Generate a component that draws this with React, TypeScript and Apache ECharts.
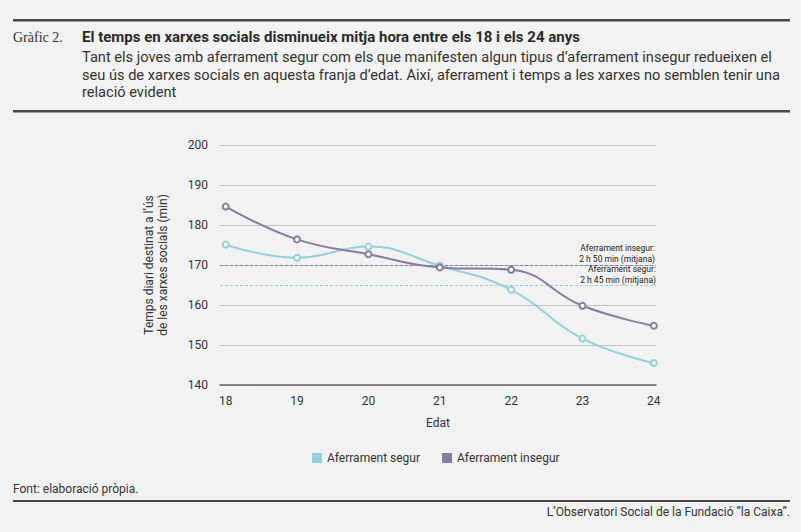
import React, { useEffect, useRef } from "react";
import * as echarts from "echarts";

const ages = [18, 19, 20, 21, 22, 23, 24];
const segur = [175.1, 171.8, 174.6, 169.8, 163.8, 151.6, 145.5];
const insegur = [184.6, 176.4, 172.7, 169.4, 168.8, 159.8, 154.8];
const meanInsegur = 170;
const meanSegur = 165;
const yTicks = [140, 150, 160, 170, 180, 190, 200];

const CYAN = "#93d2dd";
const PURPLE = "#8a7c9e";
const FONT = "Roboto, 'Liberation Sans', sans-serif";

export default function App() {
  const ref = useRef<HTMLDivElement>(null);
  useEffect(() => {
    document.body.style.margin = "0";
    const chart = echarts.init(ref.current!, null, { renderer: "svg" });
    chart.setOption({
      animation: false,
      backgroundColor: "#f2f2f2",
      textStyle: { fontFamily: FONT },
      grid: { left: 220, right: 145, top: 145, bottom: 147 },
      legend: {
        top: 447,
        left: 307,
        itemWidth: 10,
        itemHeight: 10,
        itemGap: 22,
        icon: "rect",
        textStyle: { fontSize: 12, color: "#333", fontFamily: FONT },
        data: [
          { name: "Aferrament segur", itemStyle: { color: CYAN } },
          { name: "Aferrament insegur", itemStyle: { color: PURPLE } },
        ],
      },
      xAxis: {
        type: "value",
        min: 17.92,
        max: 24.03,
        name: "Edat",
        nameLocation: "middle",
        nameGap: 32,
        nameTextStyle: { fontSize: 12, color: "#333" },
        axisLine: { show: true, lineStyle: { color: "#666", width: 1.5 } },
        axisTick: { show: false },
        splitLine: { show: false },
        axisLabel: {
          customValues: ages,
          color: "#333",
          fontSize: 12,
          margin: 10,
          formatter: (v: number) => String(Math.round(v)),
        },
      },
      yAxis: {
        type: "value",
        min: yTicks[0],
        max: yTicks[yTicks.length - 1],
        interval: 10,
        name: "Temps diari destinat a l’ús\nde les xarxes socials (min)",
        nameLocation: "middle",
        nameRotate: 90,
        nameGap: 50,
        nameTextStyle: { fontSize: 12, color: "#333", lineHeight: 14 },
        axisLine: { show: false },
        axisTick: { show: false },
        axisLabel: { color: "#333", fontSize: 12, margin: 12 },
        splitLine: { lineStyle: { color: "#c4c4c4", width: 1 } },
      },
      series: [
        {
          name: "Aferrament segur",
          type: "line",
          data: ages.map((a, i) => [a, segur[i]]),
          smooth: 0.45,
          symbol: "emptyCircle",
          symbolSize: 6,
          lineStyle: { color: CYAN, width: 2 },
          itemStyle: { color: CYAN, borderWidth: 2 },
          z: 3,
          markLine: {
            silent: true,
            symbol: "none",
            lineStyle: { color: CYAN, type: [3, 2], width: 1 },
            label: {
              position: "insideEndTop",
              formatter: "Aferrament segur:\n2 h 45 min (mitjana)",
              fontSize: 8.5,
              lineHeight: 11,
              color: "#222",
              align: "right",
              distance: 0,
            },
            data: [{ yAxis: meanSegur }],
          },
        },
        {
          name: "Aferrament insegur",
          type: "line",
          data: ages.map((a, i) => [a, insegur[i]]),
          smooth: 0.45,
          symbol: "emptyCircle",
          symbolSize: 6,
          lineStyle: { color: PURPLE, width: 2 },
          itemStyle: { color: PURPLE, borderWidth: 2 },
          z: 4,
          markLine: {
            silent: true,
            symbol: "none",
            lineStyle: { color: PURPLE, type: [3, 2], width: 1 },
            label: {
              position: "insideEndTop",
              formatter: "Aferrament insegur:\n2 h 50 min (mitjana)",
              fontSize: 8.5,
              lineHeight: 11,
              color: "#222",
              align: "right",
              distance: 1,
            },
            data: [{ yAxis: meanInsegur }],
          },
        },
      ],
      graphic: [
        { type: "rect", shape: { x: 13, y: 19, width: 777, height: 2.5 }, style: { fill: "#4a4746" } },
        { type: "rect", shape: { x: 13, y: 110, width: 777, height: 2.5 }, style: { fill: "#4a4746" } },
        { type: "rect", shape: { x: 13, y: 500, width: 777, height: 2 }, style: { fill: "#4a4746" } },
        {
          type: "text", x: 13, y: 37,
          style: { text: "Gràfic 2.", font: "14px 'Liberation Serif', 'DejaVu Serif', serif", fill: "#333", verticalAlign: "middle" },
        },
        {
          type: "text", x: 82, y: 37,
          style: { text: "El temps en xarxes socials disminueix mitja hora entre els 18 i els 24 anys", font: `bold 15px ${FONT}`, fill: "#2a2a2a", verticalAlign: "middle" },
        },
        {
          type: "text", x: 82, y: 57,
          style: { text: "Tant els joves amb aferrament segur com els que manifesten algun tipus d’aferrament insegur redueixen el", font: `14.6px ${FONT}`, fill: "#333", verticalAlign: "middle" },
        },
        {
          type: "text", x: 82, y: 75,
          style: { text: "seu ús de xarxes socials en aquesta franja d’edat. Així, aferrament i temps a les xarxes no semblen tenir una", font: `14.6px ${FONT}`, fill: "#333", verticalAlign: "middle" },
        },
        {
          type: "text", x: 82, y: 92,
          style: { text: "relació evident", font: `14.6px ${FONT}`, fill: "#333", verticalAlign: "middle" },
        },
        {
          type: "text", x: 13, y: 489,
          style: { text: "Font: elaboració pròpia.", font: `12px ${FONT}`, fill: "#333", verticalAlign: "middle" },
        },
        {
          type: "text", x: 790, y: 512,
          style: { text: "L’Observatori Social de la Fundació ”la Caixa”.", font: `12px ${FONT}`, fill: "#333", verticalAlign: "middle", align: "right" },
        },
      ],
    });
    return () => chart.dispose();
  }, []);
  return <div ref={ref} style={{ width: 801, height: 532 }} />;
}
